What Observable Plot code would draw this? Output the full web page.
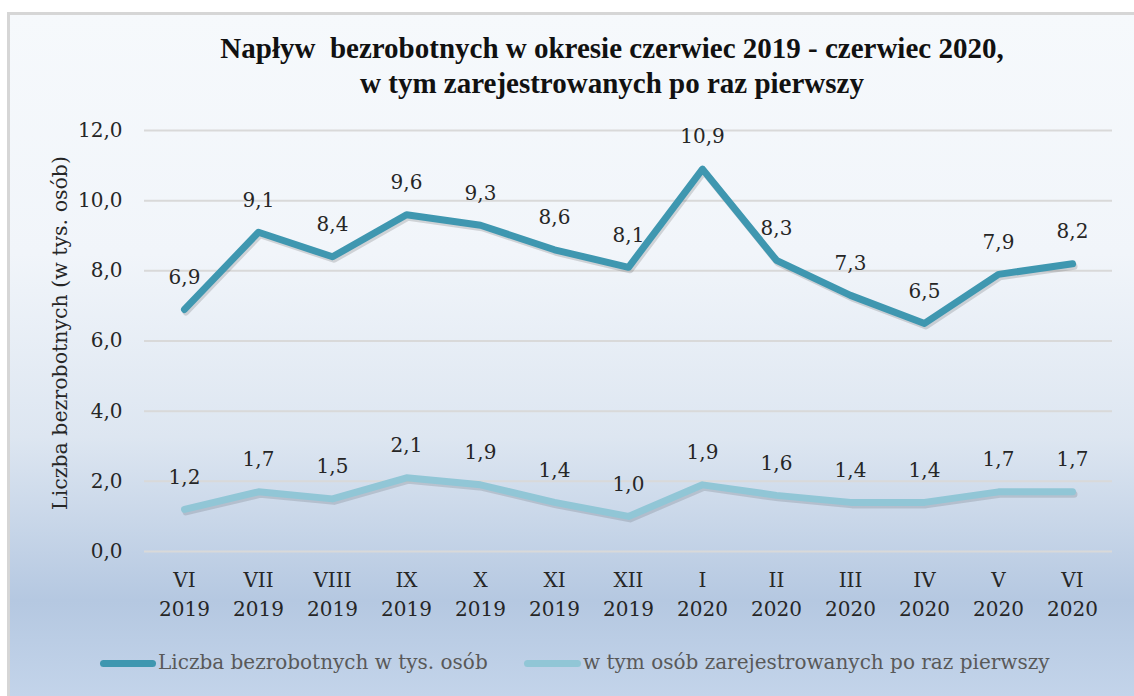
<!DOCTYPE html>
<html>
<head>
<meta charset="utf-8">
<script src="https://cdn.jsdelivr.net/npm/d3@7"></script>
<script src="https://cdn.jsdelivr.net/npm/@observablehq/plot@0.6"></script>
<style>
  html, body { margin: 0; padding: 0; background: #fff; }
  #wrap { position: relative; width: 1134px; height: 696px; overflow: hidden; background: #fff; }
  #panel { position: absolute; left: 7px; top: 12px; right: 0; bottom: 0;
    border-top: 3px solid #d6d6d6; border-left: 3px solid #d6d6d6;
    background: linear-gradient(to bottom, #f6f9fc 0%, #f1f5fa 35%, #dde6f1 62%, #b5c8e1 86%, #c3d4ea 100%); }
  #title { position: absolute; left: 0; width: 1224px; top: 31px; text-align: center;
    font-family: "Liberation Serif", serif; font-weight: bold; font-size: 29px; line-height: 35px; color: #111; }
  #chart { position: absolute; left: 0; top: 0; }
  .leg { position: absolute; top: 650px; font-family: "DejaVu Serif", serif; font-size: 20px; color: #595959; white-space: nowrap; }
  .sw { position: absolute; height: 7px; border-radius: 4px; top: 660px; }
</style>
</head>
<body>
<div id="wrap">
  <div id="panel"></div>
  <div id="title">Napływ&nbsp; bezrobotnych w okresie czerwiec 2019 - czerwiec 2020,<br>w tym zarejestrowanych po raz pierwszy</div>
  <div id="chart"></div>
  <div class="sw" style="left:100px;width:56px;background:#3f97b0"></div>
  <div class="leg" style="left:158px">Liczba bezrobotnych w tys. osób</div>
  <div class="sw" style="left:524px;width:57px;background:#91c6d6"></div>
  <div class="leg" style="left:583px">w tym osób zarejestrowanych po raz pierwszy</div>
</div>
<script>
const months = ["VI\n2019","VII\n2019","VIII\n2019","IX\n2019","X\n2019","XI\n2019","XII\n2019","I\n2020","II\n2020","III\n2020","IV\n2020","V\n2020","VI\n2020"];
const total = [6.9, 9.1, 8.4, 9.6, 9.3, 8.6, 8.1, 10.9, 8.3, 7.3, 6.5, 7.9, 8.2];
const firstTime = [1.2, 1.7, 1.5, 2.1, 1.9, 1.4, 1.0, 1.9, 1.6, 1.4, 1.4, 1.7, 1.7];
const yTicks = [0, 2, 4, 6, 8, 10, 12];
const yLabel = "Liczba bezrobotnych (w tys. osób)";

const fmt = d => d.toFixed(1).replace(".", ",");
const dTotal = months.map((m, i) => ({m, v: total[i]}));
const dFirst = months.map((m, i) => ({m, v: firstTime[i]}));

const chart = Plot.plot({
  width: 1134, height: 696,
  marginTop: 130, marginBottom: 145, marginLeft: 144, marginRight: 22,
  style: {background: "transparent", fontFamily: "DejaVu Serif, serif", fontSize: "20px", color: "#262626"},
  x: {type: "point", domain: months, padding: 0.5},
  y: {domain: [0, 12]},
  marks: [
    Plot.gridY(yTicks, {stroke: "#d9d9d9", strokeOpacity: 1, strokeWidth: 2}),
    Plot.axisY(yTicks, {tickSize: 0, tickPadding: 22, tickFormat: fmt, label: null, fontSize: 20}),
    Plot.axisX({tickSize: 0, tickPadding: 15, label: null, lineHeight: 1.45, fontSize: 20}),
    Plot.text([yLabel], {frameAnchor: "left", textAnchor: "middle", rotate: -90, dx: -84, dy: -8, fontSize: 20.5, fill: "#262626"}),
    Plot.line(dFirst, {x: "m", y: "v", stroke: "rgba(0,0,0,0.12)", strokeWidth: 7, dx: 1.5, dy: 2.5}),
    Plot.line(dFirst, {x: "m", y: "v", stroke: "#91c6d6", strokeWidth: 7, strokeLinejoin: "round", strokeLinecap: "round"}),
    Plot.line(dTotal, {x: "m", y: "v", stroke: "rgba(0,0,0,0.14)", strokeWidth: 7, dx: 1.5, dy: 2.5}),
    Plot.line(dTotal, {x: "m", y: "v", stroke: "#3f97b0", strokeWidth: 7, strokeLinejoin: "round", strokeLinecap: "round"}),
    Plot.text(dTotal, {x: "m", y: "v", text: d => fmt(d.v), dy: -32, fontSize: 20, fill: "#262626"}),
    Plot.text(dFirst, {x: "m", y: "v", text: d => fmt(d.v), dy: -32, fontSize: 20, fill: "#262626"})
  ]
});
document.getElementById("chart").appendChild(chart);
</script>
</body>
</html>
